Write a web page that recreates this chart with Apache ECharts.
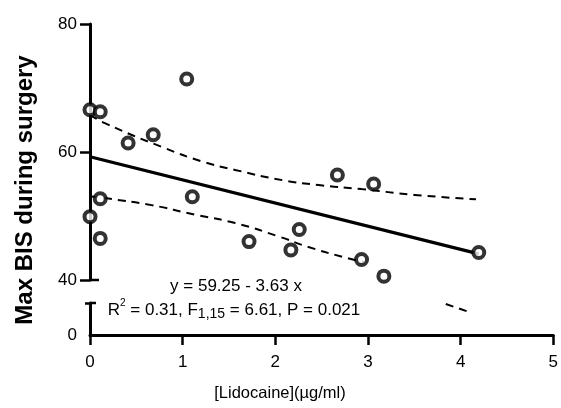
<!DOCTYPE html>
<html>
<head>
<meta charset="utf-8">
<script src="https://cdn.jsdelivr.net/npm/echarts@6/dist/echarts.min.js"></script>
<style>
html,body{margin:0;padding:0;background:#fff;}
#chart{width:561px;height:408px;}
</style>
</head>
<body>
<div id="chart"></div>
<script>
// ---- data ----
const lidocaine = [0.00, 0.11, 0.00, 0.11, 0.11, 0.41, 0.68, 1.04, 1.10, 1.71, 2.16, 2.25, 2.66, 3.05, 2.92, 3.16, 4.18];
const maxBIS    = [66.6, 66.3, 49.9, 52.7, 46.5, 61.4, 62.7, 71.4, 53.0, 46.0, 44.7, 47.9, 56.4, 55.0, 43.2, 40.6, 44.3];

const intercept = 59.25;
const slope = -3.63;
const fitXRange = [0, 4.18];

const ciUpperX = [0, 0.16, 0.77, 1.21, 1.56, 2.07, 2.48, 2.92, 3.49, 4.15];
const ciUpperY = [65.8, 64.5, 60.8, 58.5, 57.2, 55.6, 54.8, 54.2, 53.3, 52.6];
const ciLowerX = [0, 0.16, 0.66, 1.13, 1.56, 2.03, 2.34, 2.77, 2.95];
const ciLowerY = [53.1, 52.8, 51.7, 50.2, 48.9, 46.8, 45.2, 43.4, 42.8];
// part of the lower band drawn inside the lower (broken) axis segment, in that segment's units
const ciLowerBreakX = [3.84, 4.12];
const ciLowerBreakY = [9.7, 6.9];

const xTicks = [0, 1, 2, 3, 4, 5];
const yTicksUpper = [40, 60, 80];
const yTicksLower = [0];

const eqLine = 'y = 59.25 - 3.63 x';

const zip = (a, b) => a.map((v, i) => [v, b[i]]);
const fitData = fitXRange.map(x => [x, intercept + slope * x]);

const FONT = '"Liberation Sans", Arial, sans-serif';
const chart = echarts.init(document.getElementById('chart'));
const axisLineStyle = { color: '#000', width: 3 };
const dash = { color: '#000', width: 2, type: [8, 6] };

const texts = [
  { type: 'text', x: 25, y: 190, rotation: Math.PI / 2,
    style: { text: 'Max BIS during surgery', fill: '#000', font: 'bold 24px ' + FONT,
             align: 'center', verticalAlign: 'middle' } },
  { type: 'text', x: 280, y: 393,
    style: { text: '[Lidocaine](µg/ml)', fill: '#000', font: '16.5px ' + FONT,
             align: 'center', verticalAlign: 'middle' } },
  { type: 'text', x: 236, y: 286,
    style: { text: eqLine, fill: '#000', font: '17px ' + FONT,
             align: 'center', verticalAlign: 'middle' } },
  { type: 'text', x: 234, y: 310,
    style: { text: 'R{sup|2} = 0.31, F{sub|1,15} = 6.61, P = 0.021', fill: '#000',
             font: '17px ' + FONT, fontSize: 17, fontFamily: FONT,
             align: 'center', verticalAlign: 'middle',
             rich: {
               sup: { fontSize: 10, fontFamily: FONT, verticalAlign: 'top', padding: [0, 0, 8, 0] },
               sub: { fontSize: 14, fontFamily: FONT, verticalAlign: 'bottom', padding: [9, 0, 0, 0] }
             } } }
];

chart.setOption({
  animation: false,
  backgroundColor: '#fff',
  grid: [
    { left: 90, right: 6, top: 24, height: 256, containLabel: false },
    { left: 90, right: 6, top: 303, height: 32, containLabel: false }
  ],
  xAxis: [
    { gridIndex: 0, type: 'value', min: 0, max: 5, show: false },
    { gridIndex: 1, type: 'value', min: 0, max: 5, interval: 1,
      axisLine: { show: true, lineStyle: axisLineStyle },
      axisTick: { show: true, length: 10, lineStyle: { color: '#000', width: 2.5 } },
      axisLabel: { color: '#000', fontSize: 17, fontFamily: FONT, margin: 19, customValues: xTicks },
      splitLine: { show: false } }
  ],
  yAxis: [
    { gridIndex: 0, type: 'value', min: 40, max: 80, interval: 20,
      axisLine: { show: true, lineStyle: axisLineStyle },
      axisTick: { show: true, length: 10, lineStyle: { color: '#000', width: 2.5 }, customValues: yTicksUpper },
      axisLabel: { color: '#000', fontSize: 17, fontFamily: FONT, margin: 13, customValues: yTicksUpper },
      splitLine: { show: false } },
    { gridIndex: 1, type: 'value', min: 0, max: 10,
      axisLine: { show: true, lineStyle: axisLineStyle },
      axisTick: { show: true, length: 5, lineStyle: { color: '#000', width: 2.5 }, customValues: [10] },
      axisLabel: { color: '#000', fontSize: 17, fontFamily: FONT, margin: 13, customValues: yTicksLower },
      splitLine: { show: false } }
  ],
  graphic: texts,
  series: [
    { type: 'line', xAxisIndex: 0, yAxisIndex: 0, data: zip(ciUpperX, ciUpperY), smooth: true,
      showSymbol: false, symbol: 'none', lineStyle: dash, clip: true, z: 2 },
    { type: 'line', xAxisIndex: 0, yAxisIndex: 0, data: zip(ciLowerX, ciLowerY), smooth: true,
      showSymbol: false, symbol: 'none', lineStyle: dash, clip: true, z: 2 },
    { type: 'line', xAxisIndex: 1, yAxisIndex: 1, data: zip(ciLowerBreakX, ciLowerBreakY),
      showSymbol: false, symbol: 'none', lineStyle: dash, clip: true, z: 2 },
    { type: 'line', xAxisIndex: 0, yAxisIndex: 0, data: fitData,
      showSymbol: false, symbol: 'none', lineStyle: { color: '#000', width: 3.2 }, z: 3 },
    { type: 'scatter', xAxisIndex: 0, yAxisIndex: 0, data: zip(lidocaine, maxBIS),
      symbol: 'circle', symbolSize: 11, clip: false,
      itemStyle: { color: '#fff', borderColor: '#000', borderWidth: 4 }, z: 5 }
  ]
});

// axis-break caps: short marks on the right of the axis at the segment ends, positioned through the axes
const capUpper = chart.convertToPixel({ xAxisIndex: 0, yAxisIndex: 0 }, [0, 40]);
const capLower = chart.convertToPixel({ xAxisIndex: 1, yAxisIndex: 1 }, [0, 10]);
chart.setOption({
  graphic: texts.concat([
    { type: 'line', shape: { x1: capUpper[0], y1: capUpper[1], x2: capUpper[0] + 9, y2: capUpper[1] },
      style: { stroke: '#000', lineWidth: 2.5 } },
    { type: 'line', shape: { x1: capLower[0], y1: capLower[1], x2: capLower[0] + 6, y2: capLower[1] },
      style: { stroke: '#000', lineWidth: 2.5 } }
  ])
});
</script>
</body>
</html>
